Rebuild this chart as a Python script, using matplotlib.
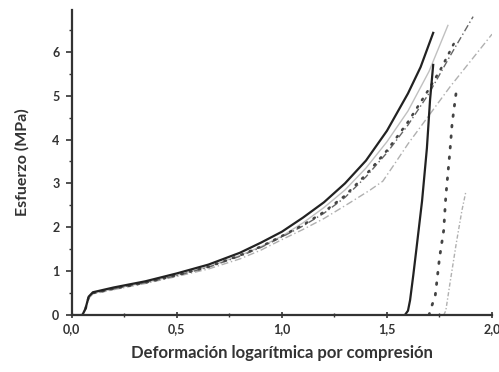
import matplotlib
matplotlib.use("Agg")
import matplotlib.pyplot as plt
from matplotlib.ticker import MultipleLocator

plt.rcParams['font.family'] = ['Lato', 'DejaVu Sans']

# loading curves (strain, stress in MPa)
solid_x = [0, 0.05, 0.065, 0.08, 0.1, 0.2, 0.35, 0.5, 0.65, 0.8, 0.9, 1.0, 1.1, 1.2,
           1.3, 1.4, 1.5, 1.6, 1.66, 1.72]
solid_y = [0, 0, 0.15, 0.42, 0.52, 0.63, 0.77, 0.95, 1.15, 1.42, 1.65, 1.9, 2.22, 2.57,
           3.0, 3.52, 4.2, 5.05, 5.65, 6.43]

light_x = [0, 0.05, 0.065, 0.08, 0.1, 0.2, 0.35, 0.5, 0.65, 0.8, 0.9, 1.0, 1.1, 1.2,
           1.3, 1.4, 1.5, 1.6, 1.7, 1.79]
light_y = [0, 0, 0.13, 0.4, 0.5, 0.6, 0.74, 0.91, 1.1, 1.36, 1.56, 1.8, 2.1, 2.45,
           2.85, 3.35, 3.95, 4.65, 5.55, 6.6]

dotted_x = [0, 0.05, 0.065, 0.08, 0.1, 0.2, 0.35, 0.5, 0.65, 0.8, 0.9, 1.0, 1.1, 1.2,
            1.3, 1.4, 1.5, 1.6, 1.7, 1.76, 1.82]
dotted_y = [0, 0, 0.14, 0.41, 0.5, 0.6, 0.74, 0.91, 1.1, 1.36, 1.56, 1.8, 2.05, 2.35,
            2.72, 3.2, 3.75, 4.4, 5.15, 5.64, 6.2]

dashdot_x = [0, 0.05, 0.065, 0.08, 0.1, 0.2, 0.35, 0.5, 0.65, 0.8, 0.9, 1.0, 1.1, 1.2,
             1.3, 1.4, 1.5, 1.6, 1.7, 1.8, 1.91]
dashdot_y = [0, 0, 0.14, 0.41, 0.5, 0.6, 0.74, 0.9, 1.09, 1.34, 1.54, 1.78, 2.03, 2.32,
             2.68, 3.15, 3.7, 4.33, 5.05, 5.9, 6.8]

graydash_x = [0, 0.05, 0.065, 0.08, 0.1, 0.2, 0.35, 0.5, 0.65, 0.8, 0.9, 1.0, 1.1, 1.2,
              1.32, 1.42, 1.48, 1.53, 1.6, 1.7, 1.8, 1.9, 2.0]
graydash_y = [0, 0, 0.12, 0.38, 0.48, 0.58, 0.72, 0.88, 1.05, 1.28, 1.48, 1.72, 1.95, 2.2,
              2.55, 2.85, 3.05, 3.4, 3.9, 4.55, 5.2, 5.8, 6.4]

# recovery / reloading curves
rel_solid_x = [1.585, 1.60, 1.61, 1.625, 1.64, 1.667, 1.69, 1.705, 1.72]
rel_solid_y = [0, 0.1, 0.34, 0.9, 1.5, 2.6, 3.8, 4.9, 5.7]
rel_dot_x = [1.70, 1.71, 1.73, 1.75, 1.77, 1.78, 1.80, 1.81, 1.83]
rel_dot_y = [0, 0.16, 0.45, 1.3, 1.93, 2.7, 3.75, 4.36, 5.1]
rel_gray_x = [1.77, 1.78, 1.80, 1.83, 1.857, 1.875]
rel_gray_y = [0, 0.1, 0.73, 1.64, 2.39, 2.8]

xticks = [0, 0.5, 1.0, 1.5, 2.0]
xtick_labels = ['0,0', '0,5', '1,0', '1,5', '2,0']
yticks = [0, 1, 2, 3, 4, 5, 6]

fig = plt.figure(figsize=(4.99, 3.72), dpi=100)
ax = fig.add_axes([0.144, 0.153, 0.842, 0.82])

txt = '#333333'
ax.plot(graydash_x, graydash_y, color='#b0b0b0', lw=1, ls=(0, (5, 2, 1, 2)))
ax.plot(light_x, light_y, color='#c0c0c0', lw=1)
ax.plot(dashdot_x, dashdot_y, color='#666666', lw=1, ls=(0, (5, 2, 1, 2)))
ax.plot(dotted_x, dotted_y, color='#444444', lw=1.8, ls=(0, (0.6, 3)),
        dash_capstyle='round')
ax.plot(solid_x, solid_y, color='#222222', lw=1.6)

ax.plot(rel_gray_x, rel_gray_y, color='#b0b0b0', lw=1, ls=(0, (3, 1.5, 1, 1.5)))
ax.plot(rel_dot_x, rel_dot_y, color='#444444', lw=2, ls=(0, (0.6, 3.2)),
        dash_capstyle='round')
ax.plot(rel_solid_x, rel_solid_y, color='#222222', lw=1.6)

ax.set_xlim(0, 2.0)
ax.set_ylim(0, 6.95)
ax.spines['top'].set_visible(False)
ax.spines['right'].set_visible(False)
for s in ('left', 'bottom'):
    ax.spines[s].set_linewidth(1.6)
    ax.spines[s].set_color('#333333')

ax.set_xticks(xticks)
ax.set_xticklabels(xtick_labels)
ax.set_yticks(yticks)
ax.xaxis.set_minor_locator(MultipleLocator(0.25))
ax.yaxis.set_minor_locator(MultipleLocator(0.5))
ax.tick_params(axis='both', which='major', length=4, width=1.2, color='#333333',
               labelsize=9, labelcolor=txt)
ax.tick_params(axis='both', which='minor', length=2.5, width=1, color='#333333')
ax.tick_params(axis='x', which='both', direction='inout', pad=4)
ax.tick_params(axis='y', which='major', pad=5)
for lab in ax.get_xticklabels() + ax.get_yticklabels():
    lab.set_fontweight('bold')

ax.set_xlabel('Deformación logarítmica por compresión', fontsize=12, fontweight='bold',
              color=txt, labelpad=7)
ax.set_ylabel('Esfuerzo (MPa)', fontsize=11.5, fontweight='bold', color=txt, labelpad=16)

fig.savefig('out.png', dpi=100)
